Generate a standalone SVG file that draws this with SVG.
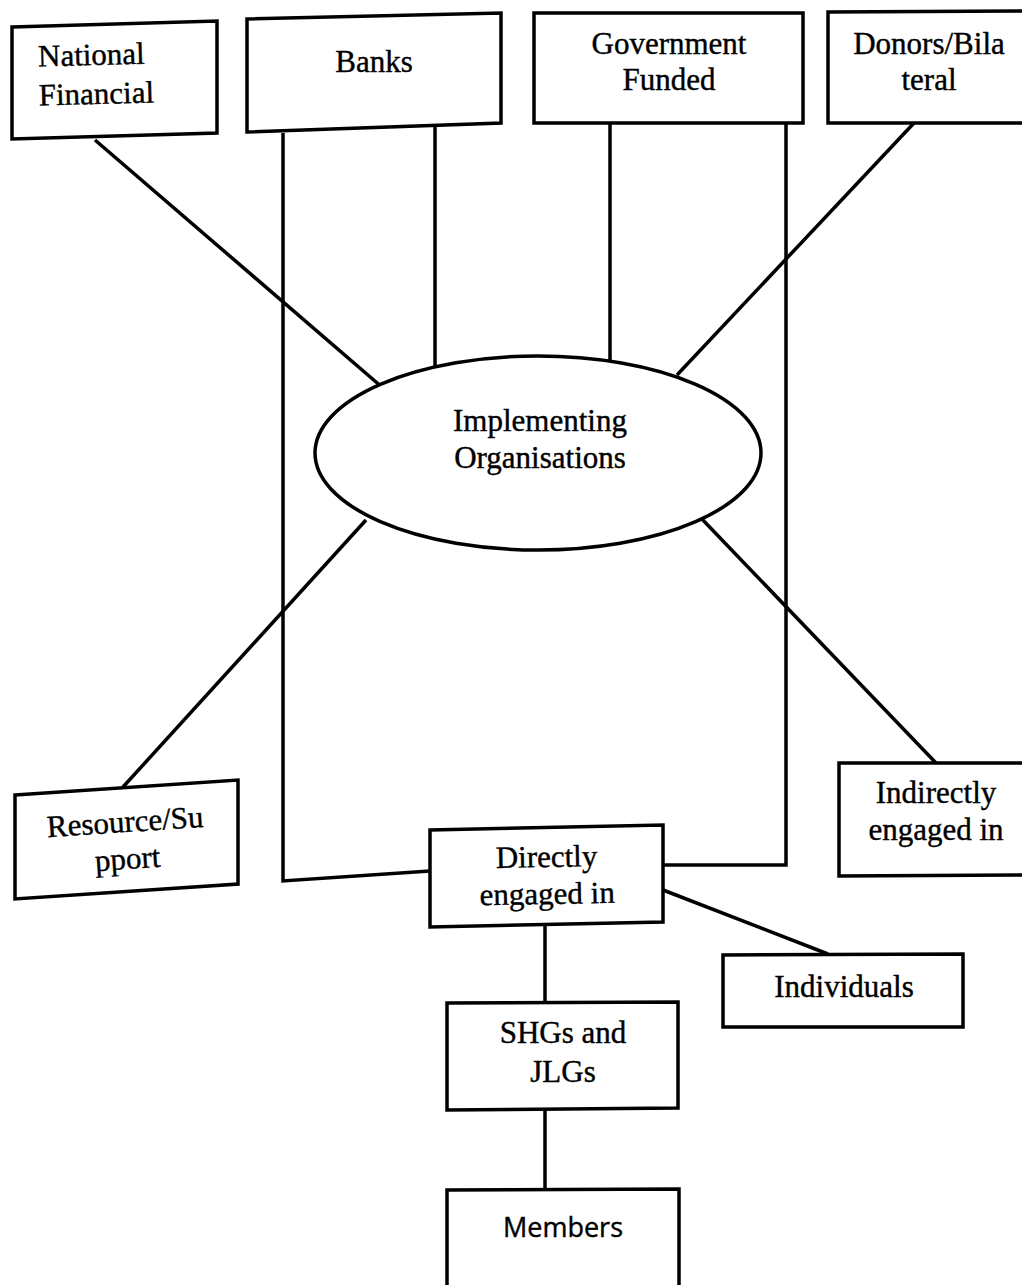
<svg xmlns="http://www.w3.org/2000/svg" width="1022" height="1285" viewBox="0 0 1022 1285">
<style>
.box{fill:#fff;stroke:#000;stroke-width:3.5;stroke-linejoin:miter}
.ln{fill:none;stroke:#000;stroke-width:3.5}
.t{font-family:"Liberation Serif","Times New Roman",serif;font-size:31px;fill:#000;stroke:#000;stroke-width:0.4;text-anchor:middle}
.s{font-family:"Open Sans","Liberation Sans",sans-serif;font-size:27px;font-weight:500;fill:#000;stroke:#000;stroke-width:0.4;text-anchor:middle}
</style>
<rect width="1022" height="1285" fill="#fff"/>
<g id="connectors">
<line class="ln" x1="95" y1="140" x2="383" y2="388"/>
<polyline class="ln" points="283,133 283,881 430,871"/>
<line class="ln" x1="435" y1="123" x2="435" y2="368"/>
<line class="ln" x1="610" y1="123" x2="610" y2="360"/>
<polyline class="ln" points="786,123 786,865 663,865"/>
<line class="ln" x1="914" y1="123" x2="677" y2="375"/>
<line class="ln" x1="366" y1="520" x2="123" y2="787"/>
<line class="ln" x1="700" y1="517" x2="936" y2="763"/>
<line class="ln" x1="663" y1="890" x2="828" y2="954"/>
<line class="ln" x1="545" y1="926" x2="545" y2="1003"/>
<line class="ln" x1="545" y1="1109" x2="545" y2="1190"/>
</g>
<g id="national">
<polygon class="box" points="12,27 217,21 217,133 12,139"/>
<text class="t" transform="rotate(-1.5 95 80)"><tspan x="92" y="65">National</tspan><tspan x="96" y="104">Financial</tspan></text>
</g>
<g id="banks">
<polygon class="box" points="247,19 501,13 501,123 247,132"/>
<text class="t" x="374" y="72">Banks</text>
</g>
<g id="government">
<polygon class="box" points="534,13 803,13 803,123 534,123"/>
<text class="t"><tspan x="669" y="54">Government</tspan><tspan x="669" y="90">Funded</tspan></text>
</g>
<g id="donors">
<polygon class="box" points="828,12 1030,11 1030,123 828,123"/>
<text class="t"><tspan x="929" y="54">Donors/Bila</tspan><tspan x="929" y="90">teral</tspan></text>
</g>
<g id="implementing">
<ellipse class="box" cx="538" cy="453" rx="223" ry="97"/>
<text class="t"><tspan x="540" y="431">Implementing</tspan><tspan x="540" y="468">Organisations</tspan></text>
</g>
<g id="resource">
<polygon class="box" points="15,795 238,780 238,884 15,899"/>
<text class="t" transform="rotate(-3.8 127 850)"><tspan x="127" y="832">Resource/Su</tspan><tspan x="127" y="869">pport</tspan></text>
</g>
<g id="directly">
<polygon class="box" points="430,830 663,825 663,922 430,927"/>
<text class="t" transform="rotate(-1 547 885)"><tspan x="547" y="867">Directly</tspan><tspan x="547" y="904">engaged in</tspan></text>
</g>
<g id="indirectly">
<polygon class="box" points="839,763 1030,763 1030,875 839,876"/>
<text class="t"><tspan x="936" y="803">Indirectly</tspan><tspan x="936" y="840">engaged in</tspan></text>
</g>
<g id="individuals">
<polygon class="box" points="723,955 963,954 963,1027 723,1027"/>
<text class="t" x="844" y="997">Individuals</text>
</g>
<g id="shgs">
<polygon class="box" points="447,1003 678,1002 678,1108 447,1110"/>
<text class="t"><tspan x="563" y="1043">SHGs and</tspan><tspan x="563" y="1082">JLGs</tspan></text>
</g>
<g id="members">
<polygon class="box" points="447,1190 679,1189 679,1292 447,1292"/>
<text class="s" x="563" y="1237">Members</text>
</g>
</svg>
